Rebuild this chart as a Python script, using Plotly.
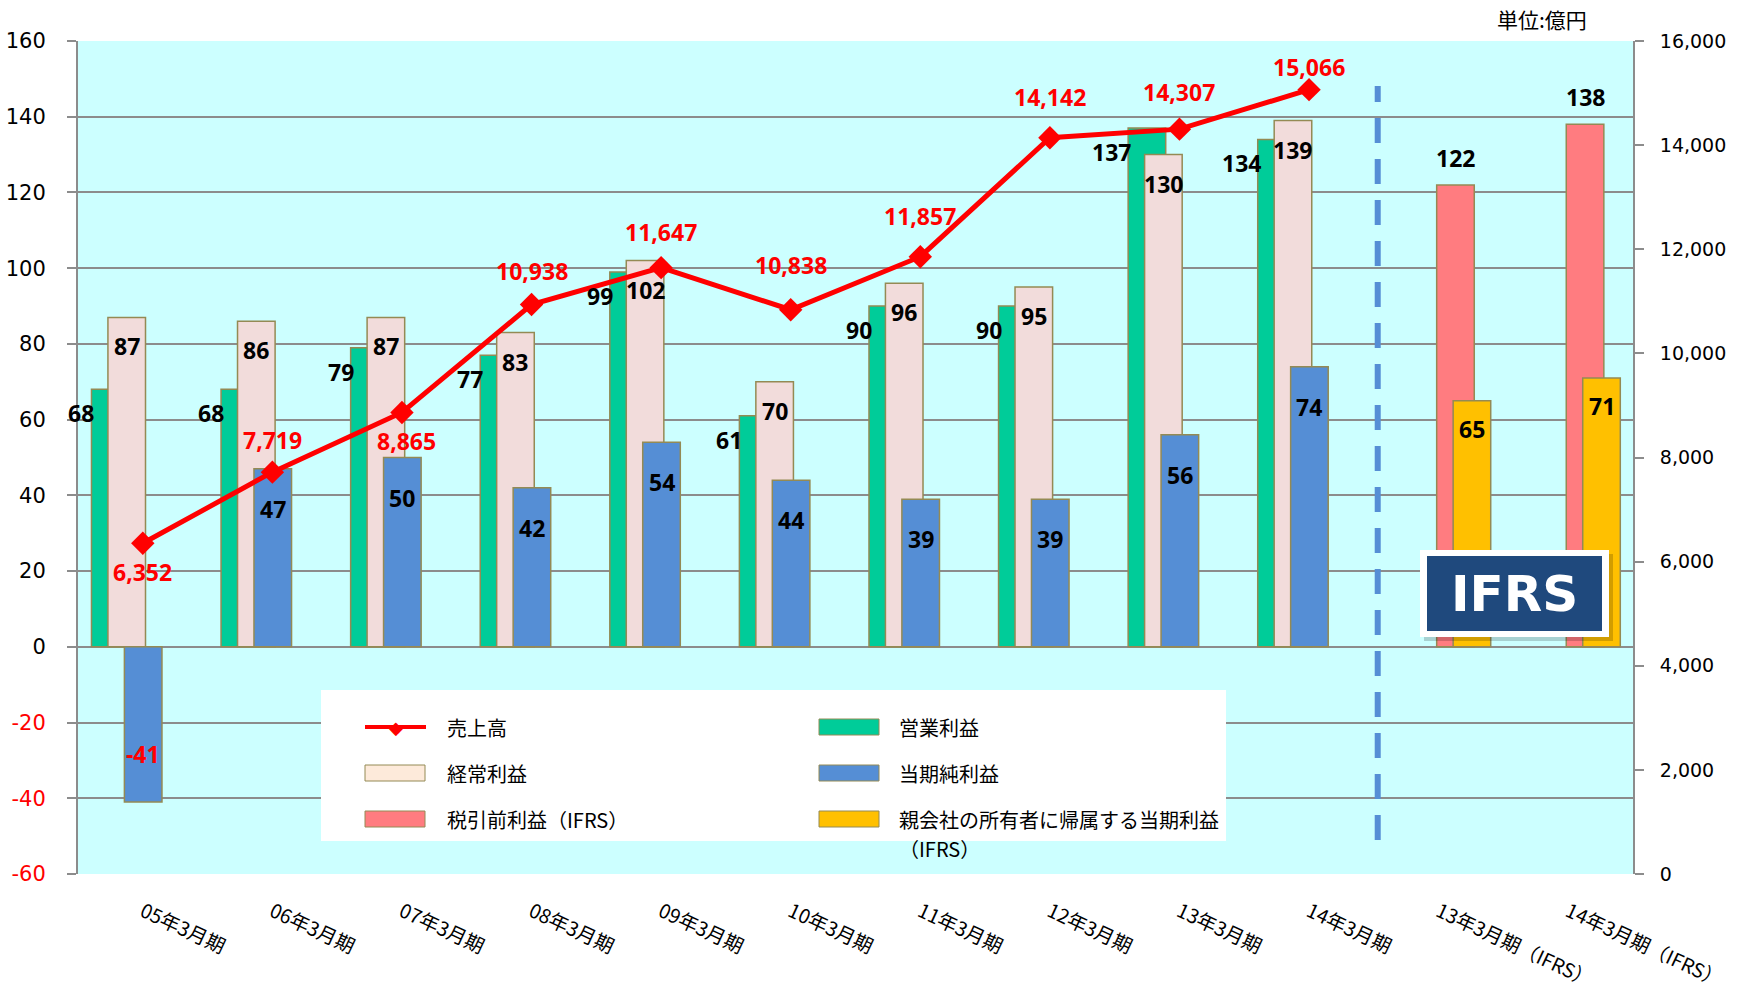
import plotly.graph_objects as go

categories = ["05年3月期", "06年3月期", "07年3月期", "08年3月期", "09年3月期", "10年3月期",
              "11年3月期", "12年3月期", "13年3月期", "14年3月期",
              "13年3月期（IFRS）", "14年3月期（IFRS）"]
sales = [6352, 7719, 8865, 10938, 11647, 10838, 11857, 14142, 14307, 15066, None, None]
operating = [68, 68, 79, 77, 99, 61, 90, 90, 137, 134, None, None]
ordinary = [87, 86, 87, 83, 102, 70, 96, 95, 130, 139, None, None]
net = [-41, 47, 50, 42, 54, 44, 39, 39, 56, 74, None, None]
pretax_ifrs = [None] * 10 + [122, 138]
owners_ifrs = [None] * 10 + [65, 71]

# plot area in pixels (figure is 1752 x 993)
PL, PR, PT, PB = 78, 1633, 41, 874
def px(x):
    return (x - PL) / (PR - PL)
def py(y):
    return (PB - y) / (PB - PT)

W = 0.29       # bar width in category units
STEP = 0.127   # shift between series
OFF0 = -0.396
EDGE = '#948A54'
LBL_FONT = dict(family="Noto Sans", size=23, color="black")
xs = list(range(len(categories)))

series = [
    ("営業利益", operating, '#00CC99'),
    ("経常利益", ordinary, '#F2DCDB'),
    ("当期純利益", net, '#558ED5'),
    ("税引前利益（IFRS）", pretax_ifrs, '#FF7C80'),
    ("親会社の所有者に帰属する当期利益（IFRS）", owners_ifrs, '#FFC000'),
]

fig = go.Figure()
for k, (name, vals, col) in enumerate(series):
    fig.add_trace(go.Bar(
        x=xs, y=vals, name=name, offset=OFF0 + k * STEP, width=W,
        marker=dict(color=col, line=dict(color=EDGE, width=1.5)),
        hoverinfo='y+name'))

fig.add_trace(go.Scatter(
    x=xs, y=sales, name="売上高", yaxis='y2', mode='lines+markers',
    line=dict(color='#FF0000', width=5),
    marker=dict(symbol='diamond', size=18, color='#FF0000'),
    connectgaps=False))

ann = []
# data labels for the bars
label_shift = [(-1, -24), (0, -29), (0, -40), (0, 27), (0, -28)]
for k, (name, vals, col) in enumerate(series):
    for i, v in enumerate(vals):
        if v is None:
            continue
        left = i + OFF0 + k * STEP
        mode, dy = label_shift[k]
        color = 'black'
        if v < 0:
            dy = 48
            color = '#FF0000'
        if mode == -1:
            ann.append(dict(x=left, y=v, xref='x', yref='y', text=f"<b>{v}</b>",
                            xanchor='right', yanchor='middle', xshift=5, yshift=dy,
                            showarrow=False, font=dict(LBL_FONT, color=color)))
        else:
            ann.append(dict(x=left + W / 2, y=v, xref='x', yref='y', text=f"<b>{v}</b>",
                            xanchor='center', yanchor='middle', yshift=dy,
                            showarrow=False, font=dict(LBL_FONT, color=color)))

# labels for sales line
sales_shift = [-29, 32, -29, 34, 36, 45, 41, 41, 37, 23]
for i, v in enumerate(sales):
    if v is None:
        continue
    ann.append(dict(x=i, y=v, xref='x', yref='y2', text=f"<b>{v:,}</b>",
                    xanchor='center', yanchor='middle', yshift=sales_shift[i],
                    xshift=5 if i == 2 else 0,
                    showarrow=False, font=dict(LBL_FONT, color='#FF0000')))

shapes = []
# dashed divider between J-GAAP and IFRS
shapes.append(dict(type='line', xref='x', yref='paper', x0=9.53, x1=9.53,
                   y0=py(840), y1=py(86), layer='above',
                   line=dict(color='#558ED5', width=6, dash='25px,16px')))

# custom legend box
shapes.append(dict(type='rect', xref='paper', yref='paper', x0=px(321), x1=px(1226),
                   y0=py(841), y1=py(690), fillcolor='white', line=dict(width=0), layer='above'))
legend_items = [
    ("売上高", None, 365, 445, 727),
    ("営業利益", '#00CC99', 819, 897, 727),
    ("経常利益", '#FDEADA', 365, 445, 773),
    ("当期純利益", '#558ED5', 819, 897, 773),
    ("税引前利益（IFRS）", '#FF7C80', 365, 445, 819),
    ("親会社の所有者に帰属する当期利益", '#FFC000', 819, 897, 819),
]
LEG_FONT = dict(family="Noto Sans CJK JP", size=20, color="black")
for name, col, sx, tx, yy in legend_items:
    if col is None:
        shapes.append(dict(type='line', xref='paper', yref='paper', x0=px(sx), x1=px(sx + 61),
                           y0=py(yy), y1=py(yy), layer='above',
                           line=dict(color='#FF0000', width=4)))
        ann.append(dict(x=px(sx + 30.5), y=py(yy), xref='paper', yref='paper', text="◆",
                        showarrow=False, font=dict(size=18, color='#FF0000'),
                        xanchor='center', yanchor='middle'))
    else:
        shapes.append(dict(type='rect', xref='paper', yref='paper', layer='above',
                           x0=px(sx), x1=px(sx + 60), y0=py(yy + 8), y1=py(yy - 8),
                           fillcolor=col, line=dict(color=EDGE, width=1)))
    ann.append(dict(x=px(tx), y=py(yy), xref='paper', yref='paper', text=name,
                    xanchor='left', yanchor='middle', showarrow=False, font=LEG_FONT))
ann.append(dict(x=px(897), y=py(848), xref='paper', yref='paper', text="（IFRS）",
                xanchor='left', yanchor='middle', showarrow=False, font=LEG_FONT))

# IFRS badge
shapes.append(dict(type='rect', xref='paper', yref='paper', layer='above',
                   x0=px(1424), x1=px(1613), y0=py(641), y1=py(554),
                   fillcolor='rgba(0,0,0,0.18)', line=dict(width=0)))
shapes.append(dict(type='rect', xref='paper', yref='paper', layer='above',
                   x0=px(1420), x1=px(1609), y0=py(637), y1=py(550),
                   fillcolor='white', line=dict(width=0)))
shapes.append(dict(type='rect', xref='paper', yref='paper', layer='above',
                   x0=px(1427), x1=px(1602), y0=py(631), y1=py(556),
                   fillcolor='#1F497D', line=dict(width=0)))
ann.append(dict(x=px(1514.5), y=py(593.5), xref='paper', yref='paper', text="<b>IFRS</b>",
                xanchor='center', yanchor='middle', showarrow=False,
                font=dict(family="DejaVu Sans", size=50, color='white')))

ann.append(dict(x=px(1542), y=py(19), xref='paper', yref='paper', text="単位:億円",
                xanchor='center', yanchor='middle', showarrow=False,
                font=dict(family="Noto Sans CJK JP", size=21, color='black')))

left_ticks = list(range(-60, 161, 20))
left_text = [f"<span style='color:#FF0000'>{t}</span>" if t < 0 else str(t) for t in left_ticks]

fig.update_layout(
    width=1752, height=993,
    margin=dict(l=PL, r=1752 - PR, t=PT, b=993 - PB, autoexpand=False),
    barmode='overlay',
    showlegend=False,
    paper_bgcolor='white',
    plot_bgcolor='#CCFFFF',
    font=dict(family="DejaVu Sans", size=20, color='black'),
    annotations=ann,
    shapes=shapes,
    xaxis=dict(range=[-0.5, 11.5], tickvals=xs, ticktext=categories, tickangle=25,
               showgrid=False, zeroline=False, showline=False, ticks='',
               ticklabelstandoff=22, automargin=False,
               tickfont=dict(family="Noto Sans CJK JP", size=19.5, color='black')),
    yaxis=dict(range=[-60, 160], tickvals=left_ticks, ticktext=left_text,
               showgrid=True, gridcolor='#8C8C8C', gridwidth=2, zeroline=False,
               showline=True, linecolor='#8C8C8C', linewidth=2, automargin=False,
               ticks='outside', ticklen=9, tickcolor='#8C8C8C', tickwidth=1.5,
               tickfont=dict(size=21), ticklabelstandoff=17),
    yaxis2=dict(range=[0, 16000], dtick=2000, tickformat=',', overlaying='y', side='right',
                showgrid=False, zeroline=False, showline=True, linecolor='#8C8C8C', linewidth=2,
                ticks='outside', ticklen=9, tickcolor='#8C8C8C', tickwidth=1.5,
                automargin=False, tickfont=dict(size=19), ticklabelstandoff=12),
)

fig.write_html("out.html", config={'displayModeBar': False},
               post_script="document.body.style.margin='0';")
